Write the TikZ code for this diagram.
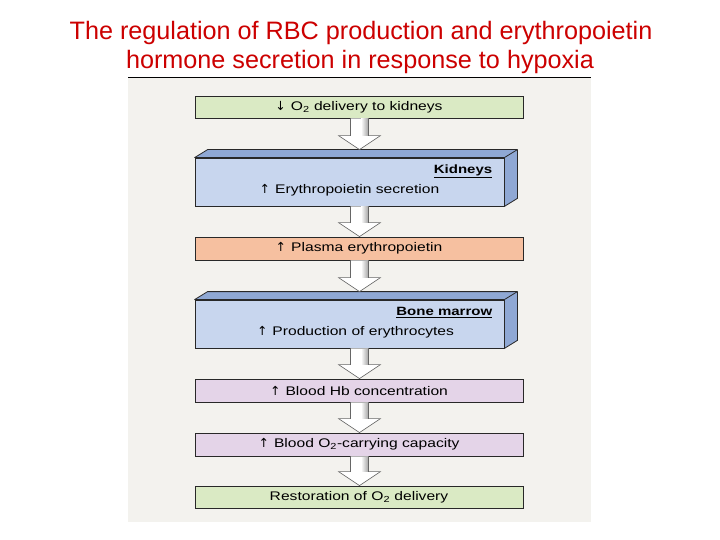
\documentclass[tikz,border=0pt]{standalone}
\usepackage{fontspec}
\setmainfont{Liberation Sans}
\newfontfamily\boxfont[FakeStretch=1.25]{Liberation Sans}
\newfontfamily\arrfont{DejaVu Sans}
\usetikzlibrary{calc, positioning}
\definecolor{EpoRed}{RGB}{204, 0, 0}
\definecolor{EpoPanel}{RGB}{243, 242, 238}
\definecolor{EpoGreen}{RGB}{218, 234, 196}
\definecolor{EpoSalmon}{RGB}{246, 192, 160}
\definecolor{EpoLilac}{RGB}{228, 212, 232}
\definecolor{EpoBlue}{RGB}{200, 214, 238}
\definecolor{EpoBlueDark}{RGB}{143, 168, 212}
\definecolor{EpoLine}{RGB}{40, 40, 40}

\newcommand\uparr{{\arrfont\fontsize{12.5}{13}\selectfont ↑}\hspace{5pt}}
\newcommand\downarr{{\arrfont\fontsize{12.5}{13}\selectfont ↓}\hspace{5pt}}

\tikzset{
  flatbox/.style={draw=EpoLine, line width=0.8pt, minimum width=328, minimum height=22,
    inner sep=0pt, font=\boxfont\fontsize{12.5}{14}\selectfont},
  organbox/.style={flatbox, fill=EpoBlue, minimum width=309, minimum height=48},
  organface/.style={fill=EpoBlueDark, draw=EpoLine, line width=0.8pt, line join=round},
  organlabel/.style={font=\boxfont\bfseries\fontsize{12}{14}\selectfont, anchor=east, inner sep=1pt},
  boxtext/.style={font=\boxfont\fontsize{12.5}{14}\selectfont, inner sep=1pt},
  flowarr/.style={draw=black!60, line width=0.6pt, line join=miter},
  titletext/.style={text=EpoRed, font=\fontsize{25.2}{28}\selectfont, inner sep=0pt}
}

% hollow block arrow between two boxes, #1 = raise of the tip (3D top face)
\newcommand\flowarrow[3][0]{%
  \path (#2.south -| spine) coordinate (fa-s)
        ($(#3.north -| spine)+(0,-#1)$) coordinate (fa-t);
  \fill[white] ($(fa-s)+(-9,0)$) -- ($(fa-t)+(-9,-14)$) -- ($(fa-t)+(-21,-14)$) -- (fa-t)
    -- ($(fa-t)+(21,-14)$) -- ($(fa-t)+(9,-14)$) -- ($(fa-s)+(9,0)$) -- cycle;
  \shade[left color=white, right color=black!35] ($(fa-s)+(1.5,0.6)$) rectangle ($(fa-t)+(8.6,-14)$);
  \draw[flowarr] ($(fa-s)+(-9,0)$) -- ($(fa-t)+(-9,-14)$) -- ($(fa-t)+(-21,-14)$) -- (fa-t)
    -- ($(fa-t)+(21,-14)$) -- ($(fa-t)+(9,-14)$) -- ($(fa-s)+(9,0)$);
}

% top and side faces of a 3D organ box
\newcommand\organdepth[1]{%
  \draw[organface] (#1.north west) -- ++(13,-8) -- ($(#1.north east)+(13,-8)$)
    -- ($(#1.south east)+(13,-8)$) -- (#1.south east) -- (#1.north east) -- cycle;
  \draw[EpoLine, line width=0.8pt] (#1.north east) -- ++(13,-8);
}

\begin{document}
\begin{tikzpicture}[x=1pt, y=-1pt]
  \path[use as bounding box] (0,0) rectangle (720,540);
  \fill[white] (0,0) rectangle (720,540);

  % title
  \node[titletext] (title1) at (361,33) {The regulation of RBC production and erythropoietin};
  \node[titletext] (title2) at (360,62) {hormone secretion in response to hypoxia};

  % figure panel
  \fill[EpoPanel] (128,78) rectangle (591,522);
  \draw[black, line width=1pt] (128,77.5) -- (591,77.5);
  \coordinate (spine) at (359.5,0);

  % boxes
  \node[flatbox, fill=EpoGreen] (o2low) at (359,107) {\downarr O\textsubscript{2} delivery to kidneys};

  \node[organbox] (kidneys) at (349.5,182) {};
  \organdepth{kidneys}
  \node[organlabel] (kidlabel) at ($(kidneys.north east)+(-11,14)$) {\underline{Kidneys}};
  \node[boxtext] (epo) at ($(kidneys.center)+(0,8)$) {\uparr Erythropoietin secretion};

  \node[flatbox, fill=EpoSalmon, minimum height=23] (plasma) at (359,248.5) {\uparr Plasma erythropoietin};

  \node[organbox] (marrow) at (349.5,324) {};
  \organdepth{marrow}
  \node[organlabel] (marrowlabel) at ($(marrow.north east)+(-11,13)$) {\underline{Bone marrow}};
  \node[boxtext] (rbc) at ($(marrow.center)+(6,8)$) {\uparr Production of erythrocytes};

  \node[flatbox, fill=EpoLilac, minimum height=23] (hb) at (359,390.5) {\uparr Blood Hb concentration};
  \node[flatbox, fill=EpoLilac, minimum height=23] (capacity) at (359,444.5) {\uparr Blood O\textsubscript{2}-carrying capacity};
  \node[flatbox, fill=EpoGreen] (restore) at (359,497) {Restoration of O\textsubscript{2} delivery};

  % arrows
  \flowarrow[8]{o2low}{kidneys}
  \flowarrow{kidneys}{plasma}
  \flowarrow[8]{plasma}{marrow}
  \flowarrow{marrow}{hb}
  \flowarrow{hb}{capacity}
  \flowarrow{capacity}{restore}
\end{tikzpicture}
\end{document}
